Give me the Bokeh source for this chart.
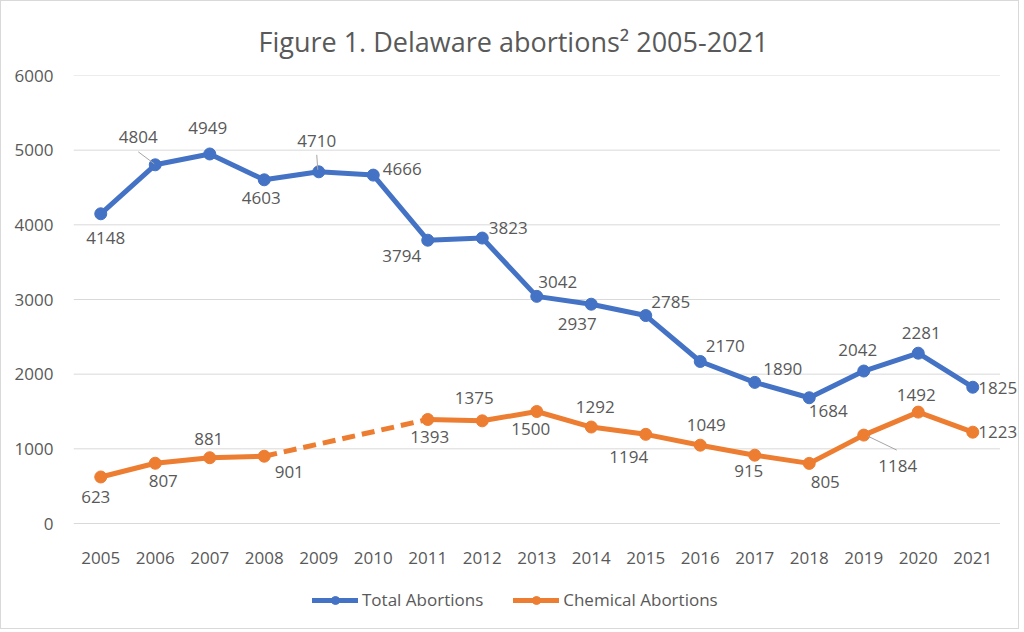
import math

from bokeh.core.properties import value
from bokeh.embed import file_html
from bokeh.models import ColumnDataSource, FixedTicker, Legend, LegendItem, Range1d
from bokeh.plotting import figure
from bokeh.resources import INLINE

# ---- data -------------------------------------------------------------
years = ["2005", "2006", "2007", "2008", "2009", "2010", "2011", "2012", "2013",
         "2014", "2015", "2016", "2017", "2018", "2019", "2020", "2021"]
total_abortions = [4148, 4804, 4949, 4603, 4710, 4666, 3794, 3823, 3042,
                   2937, 2785, 2170, 1890, 1684, 2042, 2281, 1825]
# no chemical-abortion figures were reported for 2009 and 2010
chemical_abortions = [623, 807, 881, 901, None, None, 1393, 1375, 1500,
                      1292, 1194, 1049, 915, 805, 1184, 1492, 1223]
y_ticks = [0, 1000, 2000, 3000, 4000, 5000, 6000]

# ---- styling ----------------------------------------------------------
BLUE = "#4472C4"
ORANGE = "#ED7D31"
TEXT = "#595959"
GRID = "#D9D9D9"
LEADER = "#A6A6A6"
FONT = "Open Sans"
LABEL_SIZE = "17px"

# label placement, pixels from the marker (right / down)
total_dx = [5, -17, -2, -3, -2, 29, -26, 26, 21, -14, 25, 25, 28, 19, -6, 3, 25]
total_dy = [24, -28, -26, 18, -31, -6, 16, -10, -14, 20, -14, -15, -13, 13, -21, -20, 1]
chem_dx = [-5, 8, -1, 25, 0, 0, 2, -8, -6, 4, -17, 6, -6, 16, 34, -2, 25]
chem_dy = [20, 18, -19, 16, 0, 0, 18, -23, 17, -20, 23, -20, 16, 19, 31, -17, 0]

# leader lines: (series, index, start dx, start dy, end dx, end dy) in pixels
leaders = [
    ("total", 1, -17, -13, -1, -1),
    ("total", 4, -2, -17, -1, -2),
    ("chem", 14, 4, 1, 33, 15),
]

# ---- geometry ---------------------------------------------------------
W, H = 1019, 629
B_LEFT, B_TOP = 72, 74
PLOT_H = 448                      # pixel height of the 0..6000 band
BELOW = 107                       # room under the zero line for years + legend
frame_w = W - B_LEFT
step = 54.5                       # pixels per category
x_start = -0.5
x_end = x_start + frame_w / step
y_max = y_ticks[-1]
px_per_y = PLOT_H / y_max
y_start = -BELOW / px_per_y
YEAR_LINE = 40                    # year labels sit above this many px below zero

xs = list(range(len(years)))

p = figure(
    width=W, height=H,
    x_range=Range1d(x_start, x_end),
    y_range=Range1d(y_start, y_max),
    x_axis_location="above",
    output_backend="svg",
    toolbar_location=None,
    min_border_left=B_LEFT, min_border_right=0,
    min_border_top=B_TOP, min_border_bottom=0,
    outline_line_color=None,
    background_fill_color="white",
    border_fill_color="white",
)
p.styles = {"border": "1px solid #D9D9D9"}

# title
p.title.text = "Figure 1. Delaware abortions\u00b2 2005-2021"
p.title.align = "left"
p.title.offset = 185
p.title.standoff = 31
p.title.text_font = FONT
p.title.text_font_size = "27px"
p.title.text_font_style = "normal"
p.title.text_color = TEXT

# horizontal gridlines spanning the category band only
p.xgrid.visible = False
p.ygrid.visible = False
p.segment(x0=[-0.5] * len(y_ticks), y0=y_ticks,
          x1=[len(years) - 0.5] * len(y_ticks), y1=y_ticks,
          line_color=GRID, line_width=1)

# axes
for ax in (p.xaxis[0], p.yaxis[0]):
    ax.axis_line_color = None
    ax.major_tick_line_color = None
    ax.minor_tick_line_color = None
    ax.major_tick_in = 0
    ax.major_tick_out = 0
    ax.major_label_text_font = FONT
    ax.major_label_text_font_size = LABEL_SIZE
    ax.major_label_text_color = TEXT
p.yaxis.ticker = FixedTicker(ticks=y_ticks)
p.yaxis.major_label_standoff = 20
p.xaxis.ticker = FixedTicker(ticks=xs)
p.xaxis.major_label_overrides = {i: y for i, y in enumerate(years)}
p.xaxis.major_label_standoff = 0
p.xaxis.fixed_location = -YEAR_LINE / px_per_y

# ---- series -----------------------------------------------------------
chem_vals = [math.nan if v is None else v for v in chemical_abortions]

# dashed bridge across the years without chemical data
valid = [i for i, v in enumerate(chemical_abortions) if v is not None]
for a, b in zip(valid[:-1], valid[1:]):
    if b - a > 1:
        p.line([a, b], [chemical_abortions[a], chemical_abortions[b]],
               line_color=ORANGE, line_width=5, line_dash="13 7")

tot_line = p.line(xs, total_abortions, line_color=BLUE, line_width=5,
                  line_join="round", line_cap="round")
tot_pts = p.scatter(xs, total_abortions, size=12, fill_color=BLUE, line_color=BLUE)
chem_line = p.line(xs, chem_vals, line_color=ORANGE, line_width=5,
                   line_join="round", line_cap="round")
chem_pts = p.scatter([xs[i] for i in valid], [chemical_abortions[i] for i in valid],
                     size=12, fill_color=ORANGE, line_color=ORANGE)

# leader lines
for series, i, sdx, sdy, edx, edy in leaders:
    v = total_abortions[i] if series == "total" else chemical_abortions[i]
    p.segment(x0=[i + sdx / step], y0=[v - sdy / px_per_y],
              x1=[i + edx / step], y1=[v - edy / px_per_y],
              line_color=LEADER, line_width=1)

# data labels
tot_src = ColumnDataSource(dict(
    x=xs, y=total_abortions, t=[str(v) for v in total_abortions],
    dx=total_dx, dy=total_dy))
p.text(x="x", y="y", text="t", x_offset="dx", y_offset="dy", source=tot_src,
       text_align="center", text_baseline="middle",
       text_font=value(FONT), text_font_size=value(LABEL_SIZE), text_color=TEXT)

chem_src = ColumnDataSource(dict(
    x=[xs[i] for i in valid], y=[chemical_abortions[i] for i in valid],
    t=[str(chemical_abortions[i]) for i in valid],
    dx=[chem_dx[i] for i in valid], dy=[chem_dy[i] for i in valid]))
p.text(x="x", y="y", text="t", x_offset="dx", y_offset="dy", source=chem_src,
       text_align="center", text_baseline="middle",
       text_font=value(FONT), text_font_size=value(LABEL_SIZE), text_color=TEXT)

# legend along the bottom
legend = Legend(
    items=[LegendItem(label="Total Abortions", renderers=[tot_line, tot_pts]),
           LegendItem(label="Chemical Abortions", renderers=[chem_line, chem_pts])],
    location=(239, 19), orientation="horizontal",
    glyph_width=46, glyph_height=20, label_standoff=4, spacing=30,
    padding=0, margin=0, border_line_color=None, background_fill_alpha=0,
    label_text_font=FONT, label_text_font_size=LABEL_SIZE, label_text_color=TEXT,
)
p.add_layout(legend, "center")

open("out.html", "w").write(file_html(p, INLINE))
